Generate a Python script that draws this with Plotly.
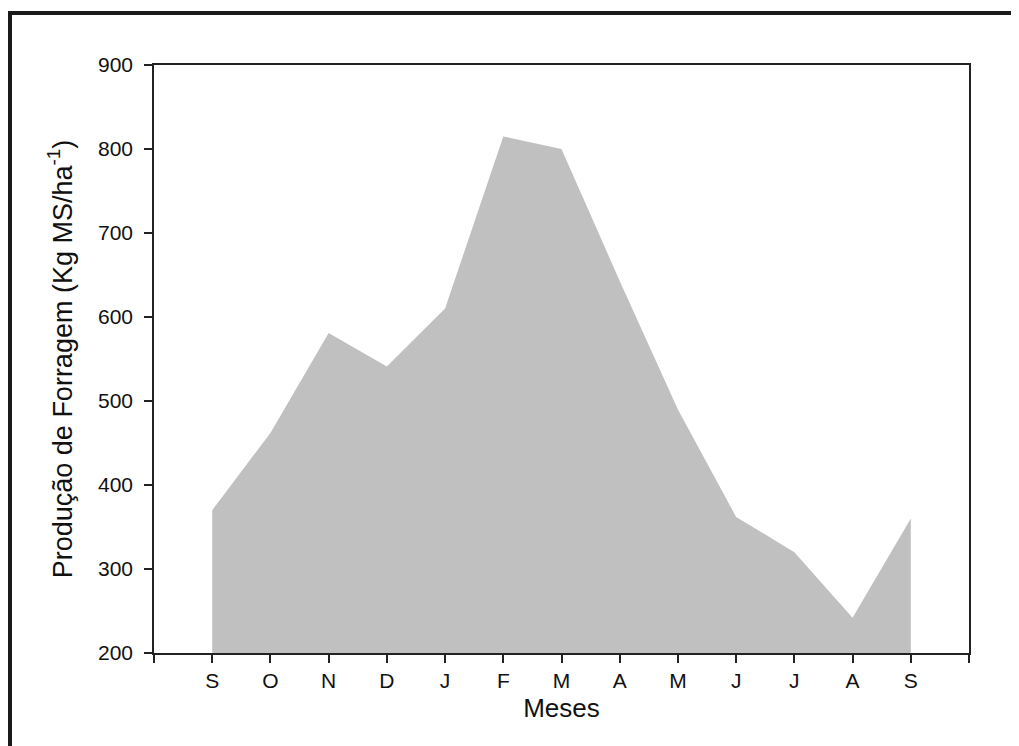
import plotly.graph_objects as go

months = ["S", "O", "N", "D", "J", "F", "M", "A", "M", "J", "J", "A", "S"]
producao = [370, 462, 581, 541, 610, 815, 800, 643, 490, 362, 320, 242, 360]
y_ticks = [200, 300, 400, 500, 600, 700, 800, 900]

# page is 1019x746, html body has an 8px margin
OFF = 8
W, H = 1019 - OFF, 746 - OFF
L, R, T, B = 154 - OFF, 50, 65 - OFF, 93
pw, ph = W - L - R, H - T - B

def px_x(px):
    return (px - OFF - L) / pw

def px_y(py):
    return (H - B - (py - OFF)) / ph

xidx = list(range(len(months)))
tickvals = list(range(-1, len(months) + 1))
ticktext = [""] + months + [""]

fig = go.Figure()
fig.add_trace(go.Scatter(
    x=xidx, y=producao, mode="lines", fill="tozeroy",
    fillcolor="#c0c0c0", line=dict(width=0, color="#c0c0c0"),
    showlegend=False, hoverinfo="skip"))

fam = "Liberation Sans, Arial, sans-serif"
font = dict(family=fam, color="#111111")

fig.update_layout(
    width=W, height=H,
    margin=dict(l=L, r=R, t=T, b=B),
    paper_bgcolor="white", plot_bgcolor="white",
    font=font,
    xaxis=dict(range=[-1, len(months)], tickmode="array", tickvals=tickvals,
               ticktext=ticktext, ticks="outside", ticklen=8, tickwidth=1.5,
               tickcolor="#222222", showline=True, linecolor="#222222",
               linewidth=1.5, mirror=True, showgrid=False, zeroline=False,
               tickfont=dict(size=21, family=fam, color="#111111"),
               title=dict(text="Meses", font=dict(size=26, family=fam, color="#111111"),
                          standoff=8)),
    yaxis=dict(range=[200, 900], tickmode="array", tickvals=y_ticks,
               ticks="outside", ticklen=8, tickwidth=1.5, tickcolor="#222222",
               showline=True, linecolor="#222222", linewidth=1.5, mirror=True,
               showgrid=False, zeroline=False, ticklabelstandoff=7,
               tickfont=dict(size=21, family=fam, color="#111111"),
               title=dict(text="Produção de Forragem (Kg MS/ha<sup>-1</sup>)",
                          font=dict(size=27, family=fam, color="#111111"),
                          standoff=18)),
    shapes=[
        dict(type="line", xref="paper", yref="paper",
             x0=px_x(8), x1=px_x(1030), y0=px_y(13), y1=px_y(13),
             line=dict(color="#1a1a1a", width=4)),
        dict(type="line", xref="paper", yref="paper",
             x0=px_x(10), x1=px_x(10), y0=px_y(11), y1=px_y(760),
             line=dict(color="#1a1a1a", width=4)),
    ],
)

fig.write_html("out.html")
